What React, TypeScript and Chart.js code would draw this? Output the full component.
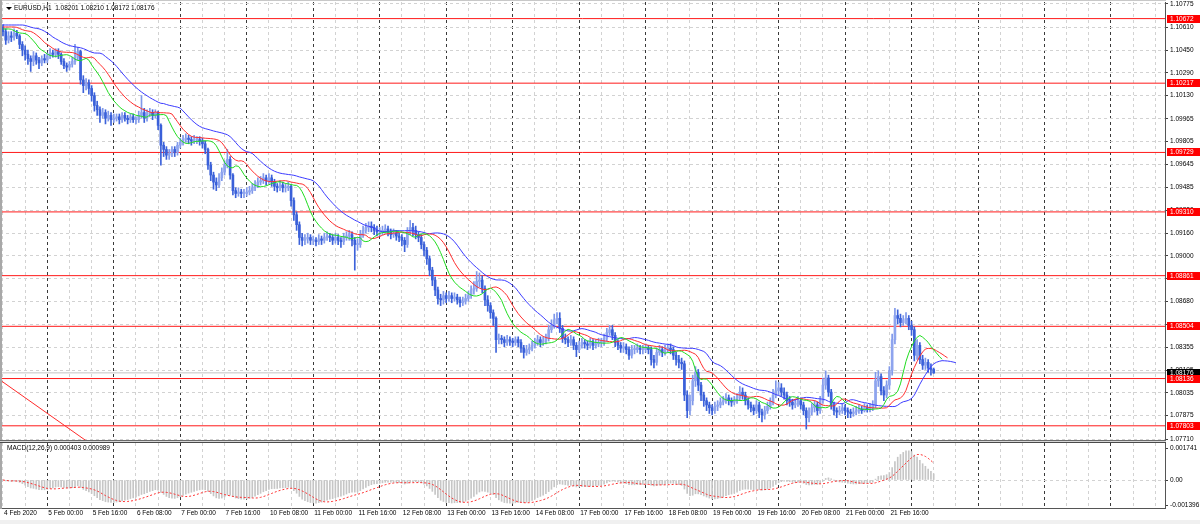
import React, { useEffect, useRef } from "react";
import { Chart, registerables } from "chart.js";

Chart.register(...registerables);

// ---------------- data ----------------
const symbolName = "EURUSD,H1";
const lastBarQuote = ["1.08201", "1.08210", "1.08172", "1.08176"];
const macdTitle = "MACD(12,26,9) 0.000403 0.000989";

const firstOpen = 1.1061;

const closes = [
  1.1058, 1.1052, 1.1055, 1.1054, 1.1057, 1.1055, 1.1049, 1.1045,
  1.1042, 1.1039, 1.1037, 1.1041, 1.1038, 1.1036, 1.1039, 1.1038,
  1.1041, 1.1043, 1.1042, 1.1044, 1.1042, 1.1037, 1.1034, 1.1033,
  1.1035, 1.1037, 1.1040, 1.1044, 1.1024, 1.1020, 1.1022, 1.1018,
  1.1013, 1.1006, 1.1003, 1.0999, 1.1001, 1.0997, 1.0999, 1.0996,
  1.0997, 1.0998, 1.0996, 1.0999, 1.0997, 1.0996, 1.0998, 1.0996,
  1.0996, 1.0999, 1.1001, 1.0997, 1.1000, 1.1001, 1.0999, 1.1001,
  1.0992, 1.0978, 1.0975, 1.0971, 1.0972, 1.0975, 1.0973, 1.0978,
  1.0980, 1.0982, 1.0983, 1.0982, 1.0981, 1.0982, 1.0982, 1.0981,
  1.0979, 1.0975, 1.0964, 1.0957, 1.0952, 1.0950, 1.0955, 1.0959,
  1.0964, 1.0968, 1.0957, 1.0946, 1.0944, 1.0945, 1.0944, 1.0944,
  1.0945, 1.0946, 1.0948, 1.0950, 1.0952, 1.0953, 1.0955, 1.0953,
  1.0955, 1.0952, 1.0949, 1.0948, 1.0950, 1.0948, 1.0948, 1.0949,
  1.0939, 1.0929, 1.0922, 1.0913, 1.0911, 1.0912, 1.0913, 1.0911,
  1.0911, 1.0910, 1.0912, 1.0911, 1.0913, 1.0914, 1.0913, 1.0911,
  1.0913, 1.0911, 1.0910, 1.0913, 1.0914, 1.0915, 1.0911, 1.0908,
  1.0908, 1.0915, 1.0918, 1.0920, 1.0921, 1.0920, 1.0918, 1.0917,
  1.0917, 1.0918, 1.0919, 1.0917, 1.0915, 1.0916, 1.0914, 1.0913,
  1.0911, 1.0908, 1.0917, 1.0920, 1.0918, 1.0915, 1.0913, 1.0908,
  1.0904, 1.0898, 1.0890, 1.0883, 1.0876, 1.0870, 1.0869, 1.0872,
  1.0870, 1.0872, 1.0870, 1.0871, 1.0869, 1.0867, 1.0868, 1.0870,
  1.0872, 1.0876, 1.0877, 1.0882, 1.0883, 1.0877, 1.0869, 1.0865,
  1.0860, 1.0856, 1.0841, 1.0842, 1.0841, 1.0839, 1.0841, 1.0840,
  1.0839, 1.0841, 1.0839, 1.0835, 1.0832, 1.0834, 1.0835, 1.0837,
  1.0839, 1.0841, 1.0839, 1.0840, 1.0842, 1.0848, 1.0851, 1.0855,
  1.0856, 1.0849, 1.0842, 1.0841, 1.0839, 1.0841, 1.0837, 1.0834,
  1.0837, 1.0839, 1.0838, 1.0837, 1.0839, 1.0837, 1.0838, 1.0839,
  1.0839, 1.0842, 1.0846, 1.0848, 1.0844, 1.0839, 1.0837, 1.0835,
  1.0836, 1.0834, 1.0830, 1.0834, 1.0834, 1.0835, 1.0834, 1.0834,
  1.0835, 1.0834, 1.0827, 1.0825, 1.0832, 1.0834, 1.0832, 1.0834,
  1.0835, 1.0834, 1.0830, 1.0827, 1.0825, 1.0824, 1.0802, 1.0791,
  1.0798, 1.0812, 1.0818, 1.0809, 1.0802, 1.0798, 1.0795, 1.0793,
  1.0791, 1.0794, 1.0795, 1.0797, 1.0798, 1.0800, 1.0798, 1.0797,
  1.0798, 1.0800, 1.0804, 1.0802, 1.0798, 1.0795, 1.0793, 1.0791,
  1.0795, 1.0790, 1.0788, 1.0791, 1.0794, 1.0797, 1.0802, 1.0805,
  1.0807, 1.0804, 1.0802, 1.0798, 1.0797, 1.0795, 1.0796, 1.0798,
  1.0795, 1.0791, 1.0786, 1.0790, 1.0793, 1.0795, 1.0791, 1.0798,
  1.0809, 1.0814, 1.0804, 1.0795, 1.0791, 1.0790, 1.0791, 1.0793,
  1.0791, 1.0790, 1.0789, 1.0790, 1.0791, 1.0792, 1.0791, 1.0793,
  1.0792, 1.0793, 1.0795, 1.0812, 1.0815, 1.0805, 1.0802, 1.0809,
  1.0819, 1.0841, 1.0858, 1.0856, 1.0853, 1.0855, 1.0856, 1.0851,
  1.0848, 1.0830, 1.0837, 1.0827, 1.0823, 1.0825, 1.0821, 1.0820,
  1.08176,
];

const highs = [
  1.1063, 1.1060, 1.1058, 1.1058, 1.1060, 1.1059, 1.1056, 1.1051,
  1.1048, 1.1045, 1.1041, 1.1044, 1.1043, 1.1040, 1.1041, 1.1042,
  1.1043, 1.1046, 1.1045, 1.1046, 1.1046, 1.1043, 1.1039, 1.1036,
  1.1037, 1.1040, 1.1049, 1.1047, 1.1045, 1.1027, 1.1025, 1.1024,
  1.1020, 1.1015, 1.1009, 1.1005, 1.1004, 1.1003, 1.1002, 1.1001,
  1.1000, 1.1000, 1.1000, 1.1001, 1.1001, 1.0999, 1.1000, 1.1000,
  1.0998, 1.1002, 1.1013, 1.1004, 1.1003, 1.1004, 1.1003, 1.1003,
  1.1002, 1.0993, 1.0980, 1.0977, 1.0975, 1.0977, 1.0977, 1.0980,
  1.0983, 1.0985, 1.0986, 1.0985, 1.0984, 1.0985, 1.0984, 1.0984,
  1.0983, 1.0981, 1.0976, 1.0966, 1.0959, 1.0955, 1.0958, 1.0962,
  1.0967, 1.0975, 1.0970, 1.0958, 1.0948, 1.0948, 1.0947, 1.0947,
  1.0948, 1.0949, 1.0951, 1.0953, 1.0955, 1.0956, 1.0958, 1.0957,
  1.0958, 1.0957, 1.0954, 1.0951, 1.0953, 1.0952, 1.0951, 1.0952,
  1.0950, 1.0941, 1.0931, 1.0924, 1.0916, 1.0915, 1.0916, 1.0915,
  1.0914, 1.0913, 1.0915, 1.0914, 1.0916, 1.0917, 1.0916, 1.0915,
  1.0916, 1.0915, 1.0913, 1.0916, 1.0917, 1.0918, 1.0917, 1.0913,
  1.0912, 1.0918, 1.0921, 1.0923, 1.0924, 1.0924, 1.0922, 1.0921,
  1.0920, 1.0921, 1.0922, 1.0921, 1.0919, 1.0919, 1.0918, 1.0916,
  1.0915, 1.0913, 1.0920, 1.0925, 1.0923, 1.0921, 1.0917, 1.0915,
  1.0910, 1.0906, 1.0900, 1.0892, 1.0885, 1.0878, 1.0873, 1.0875,
  1.0874, 1.0875, 1.0874, 1.0874, 1.0873, 1.0871, 1.0871, 1.0873,
  1.0875, 1.0879, 1.0882, 1.0889, 1.0888, 1.0886, 1.0879, 1.0872,
  1.0867, 1.0862, 1.0857, 1.0845, 1.0844, 1.0843, 1.0844, 1.0843,
  1.0842, 1.0843, 1.0843, 1.0841, 1.0837, 1.0837, 1.0838, 1.0840,
  1.0842, 1.0844, 1.0843, 1.0843, 1.0845, 1.0851, 1.0855, 1.0859,
  1.0860, 1.0860, 1.0851, 1.0845, 1.0843, 1.0844, 1.0843, 1.0839,
  1.0840, 1.0842, 1.0841, 1.0840, 1.0842, 1.0841, 1.0841, 1.0842,
  1.0842, 1.0845, 1.0849, 1.0851, 1.0851, 1.0846, 1.0841, 1.0839,
  1.0839, 1.0838, 1.0836, 1.0837, 1.0837, 1.0838, 1.0837, 1.0837,
  1.0838, 1.0837, 1.0836, 1.0830, 1.0835, 1.0837, 1.0836, 1.0837,
  1.0838, 1.0838, 1.0836, 1.0832, 1.0830, 1.0828, 1.0826, 1.0805,
  1.0802, 1.0816, 1.0822, 1.0820, 1.0811, 1.0804, 1.0800, 1.0797,
  1.0795, 1.0797, 1.0798, 1.0800, 1.0801, 1.0803, 1.0802, 1.0800,
  1.0801, 1.0803, 1.0808, 1.0807, 1.0804, 1.0800, 1.0797, 1.0795,
  1.0798, 1.0797, 1.0792, 1.0794, 1.0797, 1.0800, 1.0806, 1.0812,
  1.0811, 1.0810, 1.0807, 1.0804, 1.0801, 1.0799, 1.0799, 1.0801,
  1.0800, 1.0797, 1.0793, 1.0793, 1.0796, 1.0798, 1.0797, 1.0801,
  1.0814, 1.0819, 1.0816, 1.0806, 1.0797, 1.0793, 1.0794, 1.0796,
  1.0795, 1.0793, 1.0792, 1.0793, 1.0794, 1.0795, 1.0794, 1.0796,
  1.0795, 1.0796, 1.0798, 1.0818, 1.0819, 1.0817, 1.0808, 1.0812,
  1.0822, 1.0845, 1.0863, 1.0862, 1.0859, 1.0858, 1.0860, 1.0858,
  1.0854, 1.0850, 1.0841, 1.0839, 1.0830, 1.0828, 1.0827, 1.0824,
  1.0821,
];

const lows = [
  1.1055, 1.1049, 1.1050, 1.1051, 1.1052, 1.1053, 1.1046, 1.1041,
  1.1038, 1.1035, 1.1030, 1.1034, 1.1035, 1.1032, 1.1034, 1.1036,
  1.1036, 1.1039, 1.1040, 1.1040, 1.1039, 1.1035, 1.1032, 1.1030,
  1.1031, 1.1033, 1.1035, 1.1038, 1.1021, 1.1015, 1.1017, 1.1014,
  1.1009, 1.1002, 1.0999, 1.0994, 1.0997, 1.0993, 1.0995, 1.0992,
  1.0994, 1.0995, 1.0993, 1.0994, 1.0995, 1.0993, 1.0994, 1.0994,
  1.0993, 1.0994, 1.0997, 1.0994, 1.0995, 1.0998, 1.0996, 1.0997,
  1.0989, 1.0964, 1.0970, 1.0968, 1.0968, 1.0970, 1.0970, 1.0971,
  1.0976, 1.0978, 1.0980, 1.0979, 1.0978, 1.0979, 1.0979, 1.0978,
  1.0976, 1.0972, 1.0961, 1.0953, 1.0947, 1.0946, 1.0948, 1.0953,
  1.0957, 1.0962, 1.0954, 1.0943, 1.0941, 1.0942, 1.0941, 1.0941,
  1.0942, 1.0943, 1.0944, 1.0946, 1.0948, 1.0950, 1.0951, 1.0950,
  1.0951, 1.0949, 1.0946, 1.0945, 1.0946, 1.0945, 1.0945, 1.0946,
  1.0935, 1.0925, 1.0918, 1.0908, 1.0907, 1.0908, 1.0909, 1.0908,
  1.0908, 1.0907, 1.0908, 1.0908, 1.0909, 1.0911, 1.0910, 1.0908,
  1.0909, 1.0908, 1.0906, 1.0908, 1.0911, 1.0911, 1.0907, 1.0890,
  1.0904, 1.0906, 1.0913, 1.0916, 1.0917, 1.0917, 1.0915, 1.0914,
  1.0914, 1.0915, 1.0916, 1.0914, 1.0912, 1.0913, 1.0911, 1.0910,
  1.0907, 1.0903, 1.0906, 1.0915, 1.0914, 1.0912, 1.0910, 1.0905,
  1.0900, 1.0894, 1.0886, 1.0879, 1.0872, 1.0866, 1.0865, 1.0866,
  1.0867, 1.0868, 1.0867, 1.0868, 1.0866, 1.0864, 1.0865, 1.0866,
  1.0868, 1.0870, 1.0873, 1.0875, 1.0878, 1.0874, 1.0865, 1.0861,
  1.0856, 1.0851, 1.0832, 1.0838, 1.0838, 1.0836, 1.0837, 1.0837,
  1.0836, 1.0837, 1.0836, 1.0832, 1.0828, 1.0830, 1.0831, 1.0833,
  1.0835, 1.0837, 1.0836, 1.0837, 1.0838, 1.0840, 1.0846, 1.0849,
  1.0852, 1.0846, 1.0839, 1.0838, 1.0836, 1.0837, 1.0834, 1.0829,
  1.0832, 1.0835, 1.0835, 1.0834, 1.0835, 1.0834, 1.0835, 1.0836,
  1.0836, 1.0837, 1.0840, 1.0844, 1.0841, 1.0836, 1.0834, 1.0832,
  1.0832, 1.0831, 1.0827, 1.0828, 1.0831, 1.0832, 1.0831, 1.0831,
  1.0832, 1.0831, 1.0823, 1.0821, 1.0823, 1.0830, 1.0829, 1.0830,
  1.0832, 1.0831, 1.0827, 1.0823, 1.0821, 1.0820, 1.0798, 1.0786,
  1.0788, 1.0795, 1.0808, 1.0805, 1.0798, 1.0794, 1.0791, 1.0789,
  1.0788, 1.0789, 1.0791, 1.0793, 1.0795, 1.0796, 1.0795, 1.0794,
  1.0795, 1.0796, 1.0798, 1.0799, 1.0795, 1.0792, 1.0790, 1.0788,
  1.0789, 1.0786, 1.0783, 1.0785, 1.0789, 1.0792, 1.0795, 1.0800,
  1.0802, 1.0801, 1.0799, 1.0795, 1.0794, 1.0792, 1.0793, 1.0794,
  1.0792, 1.0788, 1.0778, 1.0783, 1.0788, 1.0790, 1.0788, 1.0789,
  1.0796, 1.0806, 1.0801, 1.0792, 1.0788, 1.0786, 1.0788, 1.0789,
  1.0788, 1.0786, 1.0786, 1.0787, 1.0788, 1.0789, 1.0789, 1.0790,
  1.0790, 1.0790, 1.0791, 1.0793, 1.0808, 1.0802, 1.0798, 1.0800,
  1.0806, 1.0816, 1.0838, 1.0852, 1.0850, 1.0851, 1.0852, 1.0848,
  1.0844, 1.0826, 1.0827, 1.0824, 1.0820, 1.0820, 1.0818, 1.0816,
  1.08172,
];

const timeLabels = [
  "4 Feb 2020", "5 Feb 00:00", "5 Feb 16:00", "6 Feb 08:00", "7 Feb 00:00",
  "7 Feb 16:00", "10 Feb 08:00", "11 Feb 00:00", "11 Feb 16:00", "12 Feb 08:00",
  "13 Feb 00:00", "13 Feb 16:00", "14 Feb 08:00", "17 Feb 00:00", "17 Feb 16:00",
  "18 Feb 08:00", "19 Feb 00:00", "19 Feb 16:00", "20 Feb 08:00", "21 Feb 00:00",
  "21 Feb 16:00",
];

const priceTickValues = [
  1.10775, 1.1061, 1.1045, 1.1029, 1.1013, 1.09965, 1.09805, 1.09645, 1.09485,
  1.0932, 1.0916, 1.09, 1.0884, 1.0868, 1.08515, 1.08355, 1.08195, 1.08035,
  1.07875, 1.0771,
];
const macdTickValues = [0.001741, 0, -0.001396];

const levelPrices = [1.10672, 1.10217, 1.09729, 1.0931, 1.08861, 1.08504, 1.08136, 1.07803];
const currentPrice = 1.08176;
const trendBars = [-1.1, 30];
const trendPrices = [1.08126, 1.07698];
const alligatorStart = [1.10627, 1.10613, 1.10599]; // jaw, teeth, lips

// ---------------- layout / style constants ----------------
const FONT = "'Liberation Sans', Arial, sans-serif";
const FS = 6.5;
const AXIS_W = 35;
const X_MIN = -1.08;
const X_MAX = 419.5;
const GRID_STEP = 8;
const LABEL_STEP = 16;
const DAY_BARS = 24;
const FIRST_DAY = 16;

// ---------------- derived series ----------------
const opens = closes.map((c, i) => (i === 0 ? firstOpen : closes[i - 1]));
const median = closes.map((_, i) => (highs[i] + lows[i]) / 2);

function smmaShifted(period: number, shift: number, seed: number) {
  let s = seed;
  const vals = median.map((m) => (s = (s * (period - 1) + m) / period));
  const pts: { x: number; y: number }[] = [];
  for (let x = 0; x < shift; x++) pts.push({ x, y: seed });
  vals.forEach((v, i) => pts.push({ x: i + shift, y: v }));
  return pts;
}

function ema(arr: number[], n: number) {
  const k = 2 / (n + 1);
  let e = arr[0];
  return arr.map((v) => (e = e + k * (v - e)));
}
const e12 = ema(closes, 12);
const e26 = ema(closes, 26);
const macdMain = closes.map((_, i) => e12[i] - e26[i]);
const macdSignal = macdMain.map((_, i) => {
  const sl = macdMain.slice(Math.max(0, i - 8), i + 1);
  return sl.reduce((a, b) => a + b, 0) / sl.length;
});

const gridTicks: { value: number }[] = [];
for (let v = 0; v <= X_MAX; v += GRID_STEP) gridTicks.push({ value: v });

const vGridColor = (ctx: any) => {
  const v = ctx.tick ? ctx.tick.value : -1;
  return v >= FIRST_DAY && (v - FIRST_DAY) % DAY_BARS === 0 ? "#3a3a3a" : "#d2d2d2";
};

const isBull = (i: number) => closes[i] >= opens[i];

const priceBoxes = {
  id: "priceBoxes",
  afterDraw(chart: any) {
    const { ctx, chartArea } = chart;
    const y = chart.scales.y;
    ctx.save();
    ctx.font = `${FS}px ${FONT}`;
    ctx.textBaseline = "middle";
    const box = (p: number, bg: string) => {
      const py = Math.round(y.getPixelForValue(p));
      ctx.fillStyle = bg;
      ctx.fillRect(chartArea.right + 2, py - 4, 40, 8);
      ctx.fillStyle = "#fff";
      ctx.fillText(p.toFixed(5), chartArea.right + 5, py + 0.5);
    };
    box(currentPrice, "#000");
    levelPrices.forEach((p) => box(p, "#ff0000"));
    ctx.restore();
  },
};

function mainConfig(): any {
  const lineDs = (data: any[], color: string, order: number, extra: any = {}) => ({
    type: "line",
    data,
    borderColor: color,
    borderWidth: 1,
    pointRadius: 0,
    order,
    ...extra,
  });
  return {
    type: "bar",
    data: {
      datasets: [
        ...levelPrices.map((p) =>
          lineDs([{ x: X_MIN, y: p }, { x: X_MAX, y: p }], "#ff1a1a", 10)
        ),
        lineDs([{ x: X_MIN, y: currentPrice }, { x: X_MAX, y: currentPrice }], "#c4c4c4", 11),
        lineDs(
          trendBars.map((b, i) => ({ x: b, y: trendPrices[i] })),
          "#ff2a2a",
          9
        ),
        {
          type: "bar",
          data: closes.map((_, i) => ({ x: i, y: [lows[i], highs[i]] })),
          barThickness: 1,
          grouped: false,
          backgroundColor: (c: any) => (isBull(c.dataIndex) ? "#7f98ea" : "#3c62da"),
          order: 6,
        },
        {
          type: "bar",
          data: closes.map((c, i) => ({ x: i, y: [opens[i], c] })),
          barThickness: 2,
          minBarLength: 1,
          grouped: false,
          backgroundColor: (c: any) => (isBull(c.dataIndex) ? "#8ea4ee" : "#3a60d9"),
          order: 5,
        },
        lineDs(smmaShifted(13, 8, alligatorStart[0]), "#3b3bff", 3),
        lineDs(smmaShifted(8, 5, alligatorStart[1]), "#ff2e2e", 2),
        lineDs(smmaShifted(5, 3, alligatorStart[2]), "#1fdc1f", 1),
      ],
    },
    options: {
      responsive: false,
      animation: false,
      events: [],
      layout: { padding: { top: 12, bottom: 10, left: 0, right: 0 } },
      plugins: { legend: { display: false }, tooltip: { enabled: false } },
      scales: {
        x: {
          type: "linear",
          min: X_MIN,
          max: X_MAX,
          offset: false,
          afterBuildTicks: (s: any) => {
            s.ticks = gridTicks.map((t) => ({ ...t }));
          },
          afterFit: (s: any) => {
            s.height = 0;
          },
          ticks: { display: false },
          grid: { color: vGridColor, drawTicks: false, offset: false },
          border: { display: false, dash: [3, 3] },
        },
        y: {
          type: "linear",
          position: "right",
          min: 1.07703,
          max: 1.10789,
          afterBuildTicks: (s: any) => {
            s.ticks = priceTickValues.map((v) => ({ value: v }));
          },
          afterFit: (s: any) => {
            s.width = AXIS_W;
          },
          ticks: {
            autoSkip: false,
            padding: 2,
            color: "#000",
            font: { size: FS, family: FONT },
            callback: (v: any) => Number(v).toFixed(5),
          },
          grid: { color: "#d2d2d2", drawTicks: true, tickLength: 3, tickColor: "#404040" },
          border: { display: true, color: "#555", dash: [3, 3] },
        },
      },
    },
    plugins: [priceBoxes],
  };
}

function macdConfig(): any {
  return {
    type: "bar",
    data: {
      datasets: [
        {
          type: "line",
          data: macdSignal.map((v, i) => ({ x: i, y: v })),
          borderColor: "#ff3030",
          borderWidth: 1,
          borderDash: [2, 2],
          pointRadius: 0,
          order: 1,
        },
        {
          type: "bar",
          data: macdMain.map((v, i) => ({ x: i, y: v })),
          barThickness: 1,
          grouped: false,
          backgroundColor: "#c6c6c6",
          order: 2,
        },
      ],
    },
    options: {
      responsive: false,
      animation: false,
      events: [],
      layout: { padding: { top: 10, bottom: 0, left: 0, right: 0 } },
      plugins: { legend: { display: false }, tooltip: { enabled: false } },
      scales: {
        x: {
          type: "linear",
          min: X_MIN,
          max: X_MAX,
          offset: false,
          afterBuildTicks: (s: any) => {
            s.ticks = gridTicks.map((t) => ({ ...t }));
          },
          afterFit: (s: any) => {
            s.height = 16;
          },
          ticks: {
            autoSkip: false,
            maxRotation: 0,
            minRotation: 0,
            align: "start",
            labelOffset: 1,
            padding: 1,
            color: "#000",
            font: { size: FS, family: FONT },
            callback: (v: any) => {
              const k = Number(v) / LABEL_STEP;
              return Number.isInteger(k) && k < timeLabels.length ? timeLabels[k] : "";
            },
          },
          grid: { color: vGridColor, drawTicks: false, offset: false },
          border: { display: true, color: "#555", dash: [3, 3] },
        },
        y: {
          type: "linear",
          position: "right",
          min: -0.001523,
          max: 0.002013,
          afterBuildTicks: (s: any) => {
            s.ticks = macdTickValues.map((v) => ({ value: v }));
          },
          afterFit: (s: any) => {
            s.width = AXIS_W;
          },
          ticks: {
            autoSkip: false,
            padding: 2,
            color: "#000",
            font: { size: FS, family: FONT },
            callback: (v: any) => (Number(v) === 0 ? "0.00" : Number(v).toFixed(6)),
          },
          grid: {
            color: (c: any) => (c.tick && c.tick.value === 0 ? "#d2d2d2" : "rgba(0,0,0,0)"),
            drawTicks: true,
            tickLength: 3,
            tickColor: "#404040",
          },
          border: { display: true, color: "#555", dash: [3, 3] },
        },
      },
    },
  };
}

export default function App() {
  const mainRef = useRef<HTMLCanvasElement>(null);
  const macdRef = useRef<HTMLCanvasElement>(null);

  useEffect(() => {
    document.body.style.margin = "0";
    const main = new Chart(mainRef.current as HTMLCanvasElement, mainConfig());
    const macd = new Chart(macdRef.current as HTMLCanvasElement, macdConfig());
    return () => {
      main.destroy();
      macd.destroy();
    };
  }, []);

  const textStyle: React.CSSProperties = {
    position: "absolute",
    fontFamily: FONT,
    fontSize: FS,
    lineHeight: "8px",
    color: "#000",
    whiteSpace: "pre",
  };

  return (
    <div
      style={{
        position: "fixed",
        left: 0,
        top: 0,
        width: 1200,
        height: 524,
        background: "#fff",
        overflow: "hidden",
      }}
    >
      <canvas
        ref={mainRef}
        width={1200}
        height={460}
        style={{ position: "absolute", left: 0, top: -10, width: 1200, height: 460 }}
      />
      <canvas
        ref={macdRef}
        width={1200}
        height={91}
        style={{ position: "absolute", left: 0, top: 433, width: 1200, height: 91 }}
      />
      {/* frame pieces */}
      <div style={{ position: "absolute", left: 0, top: 0, width: 1166, height: 1, background: "#c8c8c8" }} />
      <div style={{ position: "absolute", left: 0, top: 0, width: 2, height: 509, background: "#a8a8a8" }} />
      <div
        style={{
          position: "absolute",
          left: 0,
          top: 440,
          width: 1166,
          height: 1,
          background: "#6a6a6a",
        }}
      />
      <div style={{ position: "absolute", left: 0, top: 441, width: 1166, height: 1, background: "#d6d6d6" }} />
      <div style={{ position: "absolute", left: 0, top: 442, width: 1166, height: 1, background: "#4a4a4a" }} />
      <div style={{ position: "absolute", left: 0, top: 520, width: 1200, height: 4, background: "#f0f0f0" }} />
      {/* header */}
      <div
        style={{
          position: "absolute",
          left: 6,
          top: 7,
          width: 0,
          height: 0,
          borderLeft: "3px solid transparent",
          borderRight: "3px solid transparent",
          borderTop: "3px solid #000",
        }}
      />
      <div style={{ ...textStyle, left: 14, top: 4 }}>
        {symbolName + "  " + lastBarQuote.join(" ")}
      </div>
      <div style={{ ...textStyle, left: 7, top: 444 }}>{macdTitle}</div>
    </div>
  );
}
